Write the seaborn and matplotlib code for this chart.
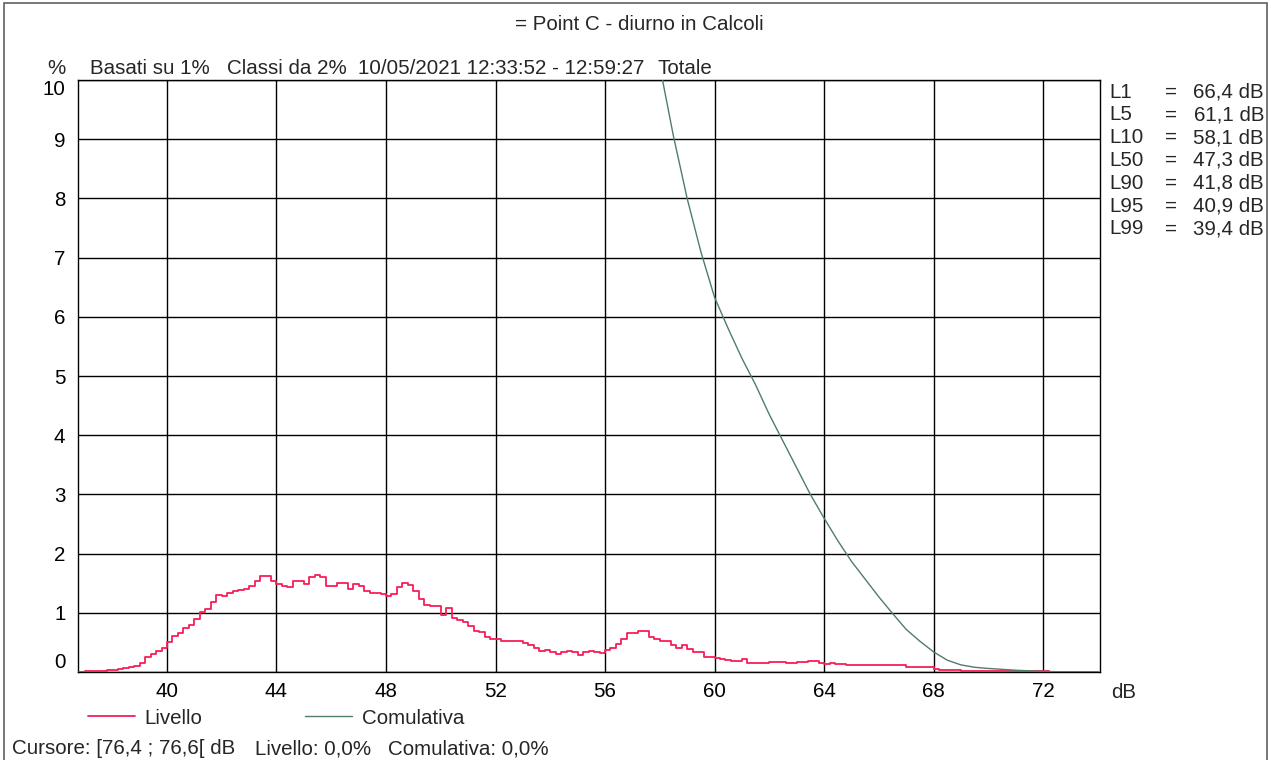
import numpy as np
import pandas as pd
import matplotlib.pyplot as plt
import seaborn as sns
from matplotlib.patches import Rectangle

# classi da 0,2 dB (% per classe)
class_start = np.round(np.arange(36.8, 74.01, 0.2), 1)
livello = [
    0.005, 0.01, 0.01, 0.015, 0.02, 0.04, 0.04, 0.055, 0.06, 0.09, 0.10,       # 36.8 - 38.8
    0.15, 0.25, 0.31, 0.36, 0.40,                                              # 39.0 - 39.8
    0.51, 0.60, 0.66, 0.74, 0.79, 0.90, 1.01, 1.07, 1.18, 1.30,                # 40.0 - 41.8
    1.28, 1.34, 1.37, 1.38, 1.41, 1.46, 1.54, 1.63, 1.62, 1.53,                # 42.0 - 43.8
    1.48, 1.46, 1.43, 1.54, 1.54, 1.49, 1.60, 1.64, 1.60, 1.45,                # 44.0 - 45.8
    1.45, 1.50, 1.50, 1.40, 1.48, 1.46, 1.36, 1.34, 1.33, 1.32,                # 46.0 - 47.8
    1.28, 1.32, 1.44, 1.51, 1.47, 1.37, 1.24, 1.14, 1.11, 1.11,                # 48.0 - 49.8
    0.97, 1.08, 0.91, 0.88, 0.84, 0.78, 0.70, 0.68, 0.59, 0.56,                # 50.0 - 51.8
    0.56, 0.52, 0.52, 0.52, 0.53, 0.49, 0.45, 0.40, 0.35, 0.37,                # 52.0 - 53.8
    0.33, 0.31, 0.33, 0.35, 0.33, 0.29, 0.33, 0.35, 0.34, 0.32,                # 54.0 - 55.8
    0.37, 0.41, 0.48, 0.55, 0.66, 0.66, 0.70, 0.70, 0.59, 0.55,                # 56.0 - 57.8
    0.53, 0.53, 0.46, 0.40, 0.45, 0.39, 0.34, 0.34, 0.25, 0.25,                # 58.0 - 59.8
    0.23, 0.22, 0.21, 0.19, 0.19, 0.22, 0.16, 0.16, 0.16, 0.16,                # 60.0 - 61.8
    0.17, 0.17, 0.17, 0.16, 0.16, 0.17, 0.17, 0.18, 0.18, 0.16,                # 62.0 - 63.8
    0.14, 0.15, 0.14, 0.13, 0.12, 0.11, 0.11, 0.11, 0.11, 0.11,                # 64.0 - 65.8
    0.11, 0.11, 0.11, 0.115, 0.11, 0.085, 0.085, 0.085, 0.085, 0.085,          # 66.0 - 67.8
    0.05, 0.04, 0.04, 0.03, 0.03,                                              # 68.0 - 68.8
    0.01, 0.01, 0.01, 0.01, 0.01, 0.01, 0.01, 0.01,                            # 69.0 - 70.4
    0.01, 0.01, 0.01, 0.01, 0.01, 0.01, 0.01, 0.01,                            # 70.6 - 72.0
    0.0, 0.0, 0.0, 0.0, 0.0, 0.0, 0.0, 0.0, 0.0, 0.0,                          # 72.2 - 74.0
]

# curva cumulativa (% di tempo sopra il livello)
cum_db = [58.1, 58.5, 59.0, 59.5, 60.0, 60.5, 61.0, 61.5, 62.0, 62.5, 63.0,
          63.5, 64.0, 64.5, 65.0, 65.5, 66.0, 66.5, 67.0, 67.5, 68.0, 68.5,
          69.0, 69.5, 70.0, 71.0, 72.0, 73.0, 74.0]
cumulativa = [10.0, 9.05, 8.0, 7.1, 6.33, 5.8, 5.3, 4.85, 4.35, 3.9, 3.45,
              3.0, 2.6, 2.22, 1.87, 1.57, 1.27, 0.99, 0.72, 0.52, 0.34, 0.2,
              0.12, 0.08, 0.06, 0.03, 0.01, 0.0, 0.0]

x_ticks = [40, 44, 48, 52, 56, 60, 64, 68, 72]
y_ticks = [0, 1, 2, 3, 4, 5, 6, 7, 8, 9, 10]

stat_names = ['L1', 'L5', 'L10', 'L50', 'L90', 'L95', 'L99']
stat_values = ['66,4 dB', '61,1 dB', '58,1 dB', '47,3 dB', '41,8 dB', '40,9 dB', '39,4 dB']

title = '= Point C - diurno in Calcoli'
RED = '#f81e58'
GREEN = '#4f7d66'
FS = 14.8

W, H = 1271, 760


def fx(px):
    return px / W


def fy(py):
    return 1 - py / H


sns.set_theme(style='white')
plt.rcParams['font.family'] = ['Liberation Sans', 'DejaVu Sans']

fig = plt.figure(figsize=(12.71, 7.6), dpi=100)
fig.patches.append(Rectangle((fx(4), fy(800)), fx(1267) - fx(4), fy(3) - fy(800),
                             transform=fig.transFigure, fill=False,
                             edgecolor='#606060', lw=1.2))

ax = fig.add_axes([fx(78), fy(672), (1100 - 78) / W, (672 - 80) / H])

df_liv = pd.DataFrame({'dB': class_start, 'perc': livello})
df_cum = pd.DataFrame({'dB': cum_db, 'perc': cumulativa})
sns.lineplot(data=df_liv, x='dB', y='perc', drawstyle='steps-post',
             color=RED, lw=1.3, label='Livello', ax=ax, zorder=3)
sns.lineplot(data=df_cum, x='dB', y='perc', color=GREEN, lw=1.0,
             label='Comulativa', ax=ax, zorder=3)

ax.set_xlim(36.75, 74.08)
ax.set_ylim(0, 10)
ax.set_xticks(x_ticks)
ax.set_yticks(y_ticks)
ax.set_xlabel('')
ax.set_ylabel('')
ax.grid(True, color='black', lw=1.0)
for s in ax.spines.values():
    s.set_color('black')
    s.set_linewidth(1.0)
ax.tick_params(axis='both', direction='out', length=3, width=1.0,
               color='black', labelsize=FS, labelcolor='black')
ax.tick_params(axis='y', pad=6)
ax.tick_params(axis='x', pad=4)
yt = ax.yaxis.get_major_ticks()
yt[0].label1.set_va('bottom')
yt[-1].label1.set_va('top')

ax.legend(loc='center left', bbox_to_anchor=(fx(88), fy(718)),
          bbox_transform=fig.transFigure, ncol=2, frameon=False, fontsize=FS,
          handlelength=2.3, handletextpad=0.45, columnspacing=5.0,
          borderpad=0, borderaxespad=0)

# testi
fig.text(fx(639), fy(24), title, ha='center', va='center', fontsize=FS)
fig.text(fx(47), fy(69), '%', ha='left', va='center', fontsize=FS)
fig.text(fx(90), fy(68), 'Basati su 1%', ha='left', va='center', fontsize=FS)
fig.text(fx(227), fy(68), 'Classi da 2%', ha='left', va='center', fontsize=FS)
fig.text(fx(358), fy(68), '10/05/2021 12:33:52 - 12:59:27', ha='left', va='center', fontsize=FS)
fig.text(fx(657), fy(68), 'Totale', ha='left', va='center', fontsize=FS)
fig.text(fx(1111), fy(692), 'dB', ha='left', va='center', fontsize=FS)

for i, (name, val) in enumerate(zip(stat_names, stat_values)):
    y = 92 + i * 22.8
    fig.text(fx(1109), fy(y), name, ha='left', va='center', fontsize=FS)
    fig.text(fx(1171), fy(y), '=', ha='center', va='center', fontsize=FS)
    fig.text(fx(1264), fy(y), val, ha='right', va='center', fontsize=FS)

fig.text(fx(12), fy(749), 'Cursore: [76,4 ; 76,6[ dB', ha='left', va='center', fontsize=FS)
fig.text(fx(255), fy(749), 'Livello: 0,0%', ha='left', va='center', fontsize=FS)
fig.text(fx(388), fy(749), 'Comulativa: 0,0%', ha='left', va='center', fontsize=FS)

fig.savefig('out.png', dpi=100)
